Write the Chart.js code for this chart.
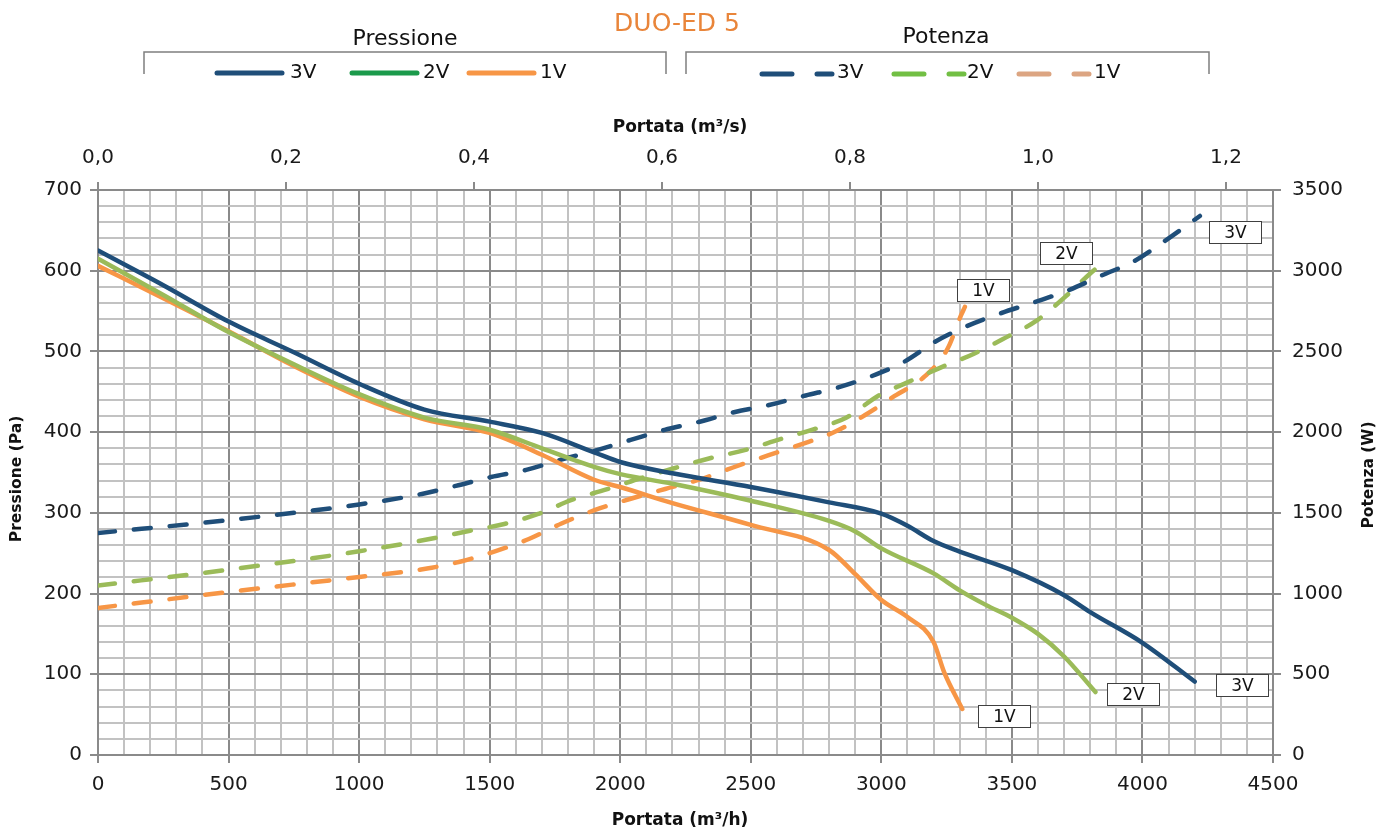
<!DOCTYPE html>
<html>
<head>
<meta charset="utf-8">
<script src="https://cdn.jsdelivr.net/npm/chart.js@4.4.1/dist/chart.umd.min.js"></script>
<style>
  html, body { margin: 0; padding: 0; background: #fff; }
</style>
</head>
<body>
<canvas id="chart" width="1398" height="834"></canvas>
<script>
// Pressione (Pa) vs Portata (m3/h)
const flowP3 = [0, 250, 500, 750, 1000, 1250, 1500, 1700, 1900, 2000, 2200, 2500, 2800, 3000, 3100, 3200, 3300, 3500, 3700, 3800, 4000, 4200];
const pres3  = [625, 582, 537, 499, 460, 428, 413, 399, 375, 363, 349, 332, 313, 299, 284, 265, 252, 229, 198, 177, 139, 91];
const flowP2 = [0, 250, 500, 750, 1000, 1250, 1500, 1700, 1900, 2000, 2200, 2500, 2800, 2900, 3000, 3200, 3300, 3400, 3500, 3600, 3700, 3820];
const pres2  = [615, 570, 524, 484, 447, 418, 403, 380, 357, 348, 336, 315, 290, 277, 256, 225, 204, 186, 170, 150, 122, 78];
const flowP1 = [0, 250, 500, 750, 1000, 1250, 1500, 1700, 1900, 2000, 2200, 2500, 2800, 2900, 3000, 3100, 3200, 3240, 3310];
const pres1  = [606, 566, 525, 482, 444, 416, 399, 372, 341, 332, 312, 285, 254, 224, 192, 171, 140, 103, 57];

// Potenza (W) vs Portata (m3/h)
const flowW3 = [0, 500, 1000, 1240, 1370, 1505, 1640, 1770, 1900, 2040, 2170, 2300, 2440, 2570, 2710, 2835, 2960, 3090, 3205, 3325, 3460, 3590, 3720, 3840, 3970, 4080, 4220];
const pow3   = [1375, 1455, 1552, 1617, 1667, 1722, 1766, 1828, 1884, 1952, 2014, 2063, 2125, 2168, 2227, 2277, 2345, 2438, 2559, 2655, 2738, 2807, 2881, 2968, 3061, 3178, 3339];
const flowW2 = [0, 500, 1000, 1290, 1420, 1556, 1686, 1814, 1947, 2080, 2210, 2340, 2480, 2610, 2740, 2867, 2990, 3100, 3227, 3353, 3478, 3593, 3704, 3800, 3830];
const pow2   = [1050, 1148, 1262, 1344, 1388, 1431, 1493, 1580, 1645, 1716, 1778, 1837, 1890, 1955, 2017, 2091, 2227, 2308, 2400, 2484, 2587, 2689, 2838, 2983, 3024];
const flowW1 = [0, 500, 1000, 1260, 1390, 1520, 1650, 1775, 1904, 2037, 2172, 2306, 2432, 2566, 2693, 2820, 2938, 3051, 3166, 3254, 3305, 3320];
const pow1   = [911, 1010, 1103, 1155, 1199, 1261, 1338, 1434, 1518, 1586, 1648, 1707, 1781, 1856, 1924, 2001, 2106, 2224, 2345, 2518, 2723, 2776];

const speedLabels = ['3V', '2V', '1V'];

const FONT = '"DejaVu Sans", "Liberation Sans", sans-serif';
const NAVY = '#1f4e79';
const GREEN = '#9bbb59';
const ORANGE = '#f79646';
const MAJOR = '#8a8a8a';
const MINOR = '#c2c2c2';

function points(xs, ys) {
    return xs.map((x, i) => ({ x: x, y: ys[i] }));
}

function series(label, xs, ys, color, axis, dashed, tag) {
    return {
        label: label,
        data: points(xs, ys),
        yAxisID: axis,
        xAxisID: 'x',
        borderColor: color,
        borderWidth: 4.5,
        borderDash: dashed ? [17, 19] : [],
        borderCapStyle: 'round',
        pointRadius: 0,
        cubicInterpolationMode: 'monotone',
        fill: false,
        tag: tag
    };
}

// where the little boxed labels sit, relative to the last point of each line
const tagOffsets = {
    p3: [21, 3], p2: [12, 2], p1: [16, 7],
    w3: [9, 16], w2: [-58, -14], w1: [-8, -17]
};

function gridColor(step) {
    return ctx => (ctx.tick && Math.round(ctx.tick.value) % step === 0) ? MAJOR : MINOR;
}
function tickColor(step) {
    return ctx => (ctx.tick && Math.round(ctx.tick.value) % step === 0) ? MAJOR : 'rgba(0,0,0,0)';
}

const decor = {
    id: 'decor',
    afterDraw(chart) {
        const ctx = chart.ctx;
        ctx.save();
        ctx.textAlign = 'center';
        ctx.textBaseline = 'middle';

        // title
        ctx.fillStyle = '#e9853a';
        ctx.font = '25px ' + FONT;
        ctx.fillText('DUO-ED 5', 677, 24);

        // group headers + brackets
        ctx.fillStyle = '#111';
        ctx.font = '22px ' + FONT;
        ctx.fillText('Pressione', 405, 39);
        ctx.fillText('Potenza', 946, 37);
        ctx.strokeStyle = '#7f7f7f';
        ctx.lineWidth = 1.5;
        [[144, 666], [686, 1209]].forEach(b => {
            ctx.beginPath();
            ctx.moveTo(b[0], 74);
            ctx.lineTo(b[0], 52);
            ctx.lineTo(b[1], 52);
            ctx.lineTo(b[1], 74);
            ctx.stroke();
        });

        // legend samples
        ctx.lineCap = 'round';
        ctx.lineWidth = 5;
        ctx.textAlign = 'left';
        ctx.font = '20px ' + FONT;
        const solid = [[NAVY, 217, 282, 290], ['#1b9a4b', 352, 417, 423], [ORANGE, 469, 534, 540]];
        solid.forEach((s, i) => {
            ctx.strokeStyle = s[0];
            ctx.beginPath();
            ctx.moveTo(s[1], 73);
            ctx.lineTo(s[2], 73);
            ctx.stroke();
            ctx.fillStyle = '#111';
            ctx.fillText(speedLabels[i], s[3], 73);
        });
        const dash = [[NAVY, 762, 837], ['#72bf44', 894, 967], ['#dca582', 1019, 1094]];
        dash.forEach((s, i) => {
            ctx.strokeStyle = s[0];
            ctx.beginPath();
            ctx.moveTo(s[1], 74);
            ctx.lineTo(s[1] + 30, 74);
            ctx.moveTo(s[1] + 55, 74);
            ctx.lineTo(s[1] + 70, 74);
            ctx.stroke();
            ctx.fillStyle = '#111';
            ctx.fillText(speedLabels[i], s[2], 73);
        });

        // axis titles
        ctx.textAlign = 'center';
        ctx.fillStyle = '#111';
        ctx.font = 'bold 17px ' + FONT;
        ctx.fillText('Portata (m³/s)', 680, 128);
        ctx.fillText('Portata (m³/h)', 680, 821);
        ctx.font = 'bold 15.5px ' + FONT;
        ctx.save();
        ctx.translate(17, 479);
        ctx.rotate(-Math.PI / 2);
        ctx.fillText('Pressione (Pa)', 0, 0);
        ctx.restore();
        ctx.save();
        ctx.translate(1369, 475);
        ctx.rotate(-Math.PI / 2);
        ctx.fillText('Potenza (W)', 0, 0);
        ctx.restore();

        // end-of-line boxed labels
        ctx.font = '17px ' + FONT;
        ctx.lineWidth = 1;
        ctx.strokeStyle = '#404040';
        chart.data.datasets.forEach((ds, i) => {
            const meta = chart.getDatasetMeta(i);
            const last = meta.data[meta.data.length - 1];
            const off = tagOffsets[ds.tag];
            const bx = Math.round(last.x + off[0]) + 0.5;
            const by = Math.round(last.y + off[1] - 11) + 0.5;
            ctx.fillStyle = '#fff';
            ctx.fillRect(bx, by, 52, 22);
            ctx.strokeRect(bx, by, 52, 22);
            ctx.fillStyle = '#111';
            ctx.fillText(ds.label, bx + 26, by + 12);
        });
        ctx.restore();
    }
};

Chart.defaults.font.family = FONT;
Chart.defaults.font.size = 20;
Chart.defaults.color = '#1a1a1a';

new Chart(document.getElementById('chart'), {
    type: 'line',
    data: {
        datasets: [
            series('3V', flowP3, pres3, NAVY, 'y', false, 'p3'),
            series('2V', flowP2, pres2, GREEN, 'y', false, 'p2'),
            series('1V', flowP1, pres1, ORANGE, 'y', false, 'p1'),
            series('3V', flowW3, pow3, NAVY, 'y1', true, 'w3'),
            series('2V', flowW2, pow2, GREEN, 'y1', true, 'w2'),
            series('1V', flowW1, pow1, ORANGE, 'y1', true, 'w1')
        ]
    },
    options: {
        responsive: false,
        animation: false,
        layout: { padding: 0 },
        plugins: {
            legend: { display: false },
            title: { display: false },
            tooltip: { enabled: false }
        },
        scales: {
            x: {
                type: 'linear',
                position: 'bottom',
                min: 0,
                max: 4500,
                ticks: {
                    stepSize: 100,
                    autoSkip: false,
                    maxRotation: 0,
                    minRotation: 0,
                    padding: 10,
                    callback: v => (Math.round(v) % 500 === 0 ? String(Math.round(v)) : '')
                },
                grid: { color: gridColor(500), lineWidth: 2, tickLength: 8, tickColor: tickColor(500) },
                border: { color: MAJOR, width: 2 },
                afterFit: s => { s.height = 79; }
            },
            x2: {
                type: 'linear',
                position: 'top',
                min: 0,
                max: 1.25,
                ticks: {
                    stepSize: 0.2,
                    includeBounds: false,
                    maxRotation: 0,
                    padding: 12,
                    callback: v => v.toFixed(1).replace('.', ',')
                },
                grid: { drawOnChartArea: false, color: MAJOR, lineWidth: 2, tickLength: 8 },
                border: { color: MAJOR, width: 2 },
                afterFit: s => { s.height = 190; }
            },
            y: {
                type: 'linear',
                position: 'left',
                min: 0,
                max: 700,
                ticks: {
                    stepSize: 20,
                    autoSkip: false,
                    padding: 8,
                    callback: v => (Math.round(v) % 100 === 0 ? String(Math.round(v)) : '')
                },
                grid: { color: gridColor(100), lineWidth: 2, tickLength: 8, tickColor: tickColor(100) },
                border: { color: MAJOR, width: 2 },
                afterFit: s => { s.width = 98; }
            },
            y1: {
                type: 'linear',
                position: 'right',
                min: 0,
                max: 3500,
                ticks: { stepSize: 500, padding: 11, callback: v => String(v) },
                grid: { drawOnChartArea: false, color: MAJOR, lineWidth: 2, tickLength: 8 },
                border: { color: MAJOR, width: 2 },
                afterFit: s => { s.width = 125; }
            }
        }
    },
    plugins: [decor]
});
</script>
</body>
</html>
